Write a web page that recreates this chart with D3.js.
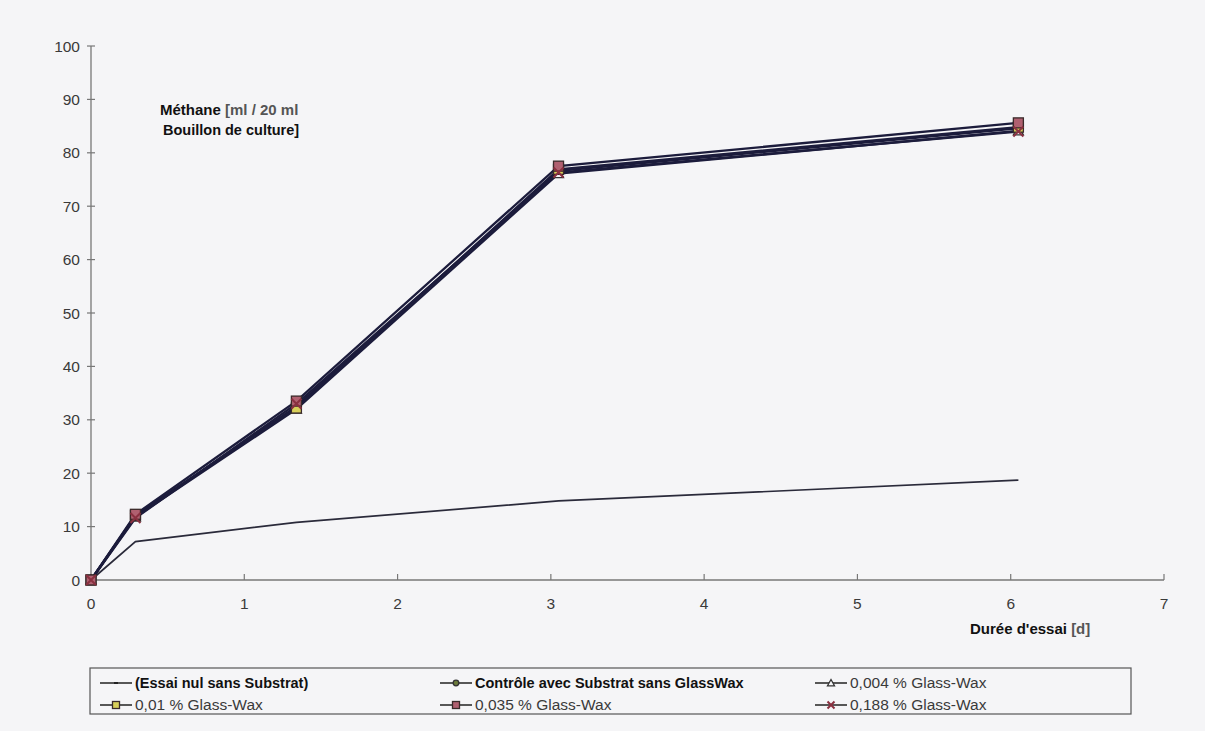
<!DOCTYPE html>
<html><head><meta charset="utf-8">
<script src="https://cdn.jsdelivr.net/npm/d3@7"></script>
<style>body{margin:0;background:#f5f5f7;}svg{display:block;}</style>
</head><body>
<svg id="c" width="1205" height="731"></svg>
<script>
const days = [0, 0.29, 1.34, 3.05, 6.05];
const blank = [0, 7.2, 10.8, 14.8, 18.7];
const control = [0, 12.0, 32.5, 76.6, 84.6];
const gw0004 = [0, 11.8, 32.0, 76.1, 84.1];
const gw001 = [0, 12.1, 32.2, 76.9, 84.8];
const gw0035 = [0, 12.3, 33.5, 77.5, 85.6];
const gw0188 = [0, 11.6, 33.0, 76.3, 84.0];
const xTicks = [0,1,2,3,4,5,6,7];
const yTicks = [0,10,20,30,40,50,60,70,80,90,100];
const seriesNames = ["(Essai nul sans Substrat)","Contrôle avec Substrat sans GlassWax","0,004 % Glass-Wax","0,01 % Glass-Wax","0,035 % Glass-Wax","0,188 % Glass-Wax"];

const series = [
  {name: seriesNames[0], values: blank, marker: "dash", fill: "#222", bold: true},
  {name: seriesNames[1], values: control, marker: "circle", fill: "#6b7a3a", bold: true},
  {name: seriesNames[2], values: gw0004, marker: "triangle", fill: "#f5f5f7", bold: false},
  {name: seriesNames[3], values: gw001, marker: "square", fill: "#d8cf5a", bold: false},
  {name: seriesNames[4], values: gw0035, marker: "square", fill: "#b06070", bold: false},
  {name: seriesNames[5], values: gw0188, marker: "cross", fill: "#8a3040", bold: false}
];

const svg = d3.select("#c");
const font = "Liberation Sans, Arial, sans-serif";
const x = d3.scaleLinear().domain([0,7]).range([91,1164]);
const y = d3.scaleLinear().domain([0,100]).range([580,46]);
const axisCol = "#777";

// y axis
svg.append("line").attr("x1",x(0)).attr("x2",x(0)).attr("y1",y(0)).attr("y2",y(100)).attr("stroke",axisCol).attr("stroke-width",1.3);
yTicks.forEach(t=>{
  svg.append("line").attr("x1",x(0)-4).attr("x2",x(0)+4).attr("y1",y(t)).attr("y2",y(t)).attr("stroke",axisCol).attr("stroke-width",1.2);
  svg.append("text").attr("x",x(0)-11).attr("y",y(t)+5.5).attr("text-anchor","end").attr("font-family",font).attr("font-size",15.5).attr("fill","#3a3a3a").text(t);
});
// x axis
svg.append("line").attr("x1",x(0)).attr("x2",x(7)).attr("y1",y(0)).attr("y2",y(0)).attr("stroke",axisCol).attr("stroke-width",1.3);
xTicks.forEach(t=>{
  svg.append("line").attr("x1",x(t)).attr("x2",x(t)).attr("y1",y(0)-6).attr("y2",y(0)).attr("stroke",axisCol).attr("stroke-width",1.2);
  svg.append("text").attr("x",x(t)).attr("y",y(0)+29).attr("text-anchor","middle").attr("font-family",font).attr("font-size",15.5).attr("fill","#3a3a3a").text(t);
});

// axis titles
const yl = svg.append("text").attr("font-family",font).attr("font-size",15).attr("font-weight","bold").attr("fill","#111");
yl.append("tspan").attr("x",160).attr("y",115).text("Méthane ").append("tspan").attr("fill","#555").text("[ml / 20 ml");
svg.append("text").attr("x",163).attr("y",135).attr("font-family",font).attr("font-size",14.5).attr("font-weight","bold").attr("fill","#111").text("Bouillon de culture]");
const xl = svg.append("text").attr("x",970).attr("y",634).attr("font-family",font).attr("font-size",15).attr("font-weight","bold").attr("fill","#111");
xl.text("Durée d'essai  ");
xl.append("tspan").attr("fill","#555").text("[d]");

// lines
const line = d3.line().x((d,i)=>x(days[i])).y(d=>y(d));
series.forEach((s,i)=>{
  svg.append("path").datum(s.values).attr("d",line).attr("fill","none").attr("stroke", i===0?"#2a2a3a":"#1c1c3c").attr("stroke-width", i===0?1.7:2.3);
});

function marker(g, type, cx, cy, fill, size){
  const r = size/2;
  if(type==="circle") g.append("circle").attr("cx",cx).attr("cy",cy).attr("r",r*0.8).attr("fill",fill).attr("stroke","#333").attr("stroke-width",1.3);
  else if(type==="square") g.append("rect").attr("x",cx-r).attr("y",cy-r).attr("width",size).attr("height",size).attr("fill",fill).attr("stroke","#3a2a2a").attr("stroke-width",1.3);
  else if(type==="triangle") g.append("path").attr("d",`M${cx},${cy-r}L${cx+r},${cy+r*0.8}L${cx-r},${cy+r*0.8}Z`).attr("fill",fill).attr("stroke","#333").attr("stroke-width",1.3);
  else if(type==="cross") g.append("path").attr("d",`M${cx-r},${cy-r}L${cx+r},${cy+r}M${cx-r},${cy+r}L${cx+r},${cy-r}`).attr("stroke",fill).attr("stroke-width",2);
  else if(type==="dash") g.append("line").attr("x1",cx-2).attr("x2",cx+2).attr("y1",cy).attr("y2",cy).attr("stroke",fill).attr("stroke-width",2);
}
const mg = svg.append("g");
series.forEach(s=>{
  if(s.marker==="dash") return;
  s.values.forEach((v,i)=>marker(mg, s.marker, x(days[i]), y(v), s.fill, 10));
});

// legend
svg.append("rect").attr("x",90).attr("y",668).attr("width",1041).attr("height",46).attr("fill","none").attr("stroke","#555").attr("stroke-width",1.2);
const colX = [100, 440, 815];
const rowY = [683, 705];
series.forEach((s,i)=>{
  const cx = colX[i%3], cy = rowY[Math.floor(i/3)];
  const g = svg.append("g");
  g.append("line").attr("x1",cx).attr("x2",cx+32).attr("y1",cy).attr("y2",cy).attr("stroke","#222").attr("stroke-width",1.5);
  marker(g, s.marker, cx+16, cy, s.fill, s.marker==="dash"?4:7);
  g.append("text").attr("x",cx+35).attr("y",cy+5).attr("font-family",font).attr("font-size",s.bold?14.5:15.5).attr("font-weight",s.bold?"bold":"normal").attr("fill",s.bold?"#111":"#3a3a3a").text(s.name);
});
</script>
</body></html>
